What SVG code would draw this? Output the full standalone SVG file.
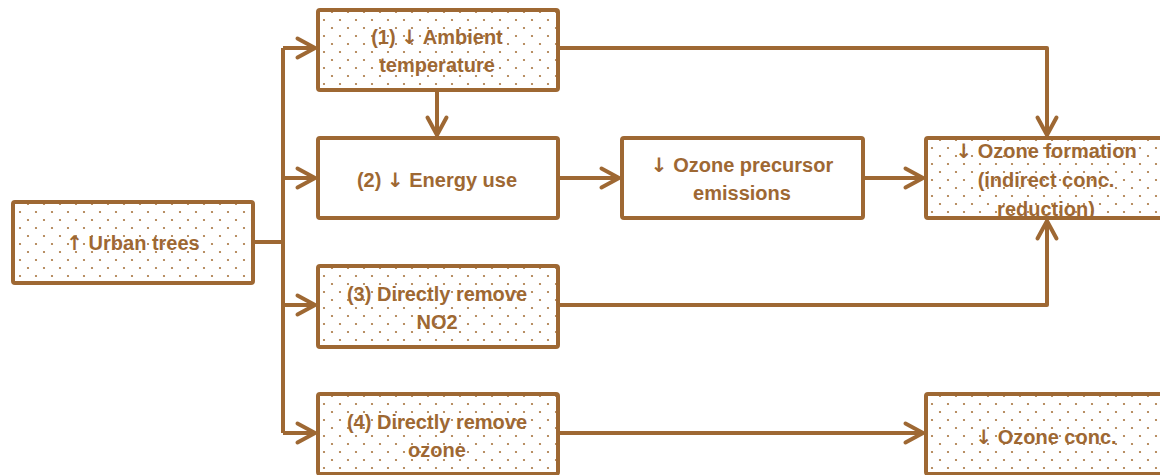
<svg xmlns="http://www.w3.org/2000/svg" width="1160" height="475" viewBox="0 0 1160 475">
<style>
.box{stroke:#9E6833;stroke-width:4;}
.dot{fill:url(#dots);}
.plain{fill:#fff;}
.t{font-family:"Liberation Sans",Arial,sans-serif;font-weight:bold;font-size:20px;fill:#9E6833;text-anchor:middle;dominant-baseline:central;}
.a{font-family:"DejaVu Sans",sans-serif;font-weight:bold;}
.c{fill:none;stroke:#9E6833;stroke-width:4;stroke-linejoin:round;}
</style>
<defs>
<pattern id="dots" width="16" height="16" patternUnits="userSpaceOnUse">
<rect width="16" height="16" fill="#fff"/>
<circle cx="4" cy="4" r="1.1" fill="#A8743F"/>
<circle cx="12" cy="12" r="1.1" fill="#A8743F"/>
</pattern>
<marker id="ah" viewBox="0 0 12 12" refX="10.5" refY="6" markerWidth="12" markerHeight="12" markerUnits="userSpaceOnUse" orient="auto" overflow="visible">
<path d="M-7,-3.5 L10.5,6 L-7,15.5" fill="none" stroke="#9E6833" stroke-width="4" stroke-linecap="round" stroke-linejoin="miter"/>
</marker>
</defs>
<g id="connectors">
<path class="c" d="M254,242 H283"/>
<path class="c" d="M283,48 V433"/>
<path class="c" d="M283,48 H315" marker-end="url(#ah)"/>
<path class="c" d="M283,178 H315" marker-end="url(#ah)"/>
<path class="c" d="M283,305 H315" marker-end="url(#ah)"/>
<path class="c" d="M283,433 H315" marker-end="url(#ah)"/>
<path class="c" d="M437,90 V135" marker-end="url(#ah)"/>
<path class="c" d="M558,178 H619" marker-end="url(#ah)"/>
<path class="c" d="M863,178 H923" marker-end="url(#ah)"/>
<path class="c" d="M558,48 H1047 V135" marker-end="url(#ah)"/>
<path class="c" d="M558,305 H1047 V221" marker-end="url(#ah)"/>
<path class="c" d="M558,433 H923" marker-end="url(#ah)"/>
</g>
<g id="urban-trees">
<rect class="box dot" x="13" y="202" width="240" height="81" rx="2"/>
<text class="t" x="133" y="243"><tspan class="a">↑</tspan> Urban trees</text>
</g>
<g id="ambient">
<rect class="box dot" x="318" y="10" width="240" height="80" rx="2"/>
<text class="t" x="437" y="37">(1) <tspan class="a">↓</tspan> Ambient</text>
<text class="t" x="437" y="65">temperature</text>
</g>
<g id="energy">
<rect class="box plain" x="318" y="138" width="240" height="80" rx="2"/>
<text class="t" x="437" y="180">(2) <tspan class="a">↓</tspan> Energy use</text>
</g>
<g id="precursor">
<rect class="box plain" x="622" y="138" width="241" height="80" rx="2"/>
<text class="t" x="742" y="165"><tspan class="a">↓</tspan> Ozone precursor</text>
<text class="t" x="742" y="193">emissions</text>
</g>
<g id="formation">
<rect class="box dot" x="926" y="138" width="244" height="80" rx="2"/>
<text class="t" x="1046" y="151"><tspan class="a">↓</tspan> Ozone formation</text>
<text class="t" x="1046" y="180">(indirect conc.</text>
<text class="t" x="1046" y="209">reduction)</text>
</g>
<g id="no2">
<rect class="box dot" x="318" y="266" width="240" height="81" rx="2"/>
<text class="t" x="437" y="294">(3) Directly remove</text>
<text class="t" x="437" y="322">NO2</text>
</g>
<g id="ozone-remove">
<rect class="box dot" x="318" y="394" width="240" height="80" rx="2"/>
<text class="t" x="437" y="422">(4) Directly remove</text>
<text class="t" x="437" y="450">ozone</text>
</g>
<g id="ozone-conc">
<rect class="box dot" x="926" y="394" width="244" height="80" rx="2"/>
<text class="t" x="1046" y="437"><tspan class="a">↓</tspan> Ozone conc.</text>
</g>
</svg>
